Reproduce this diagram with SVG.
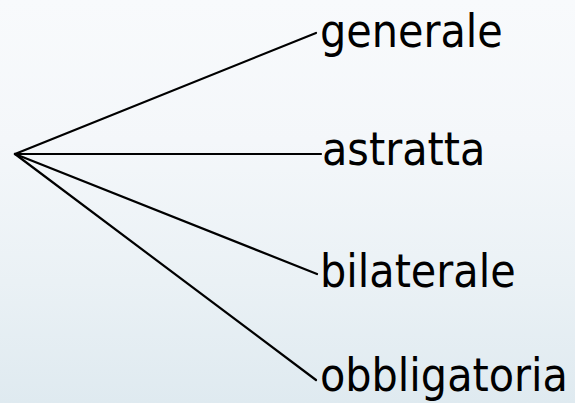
<svg xmlns="http://www.w3.org/2000/svg" width="575" height="403" viewBox="0 0 575 403">
  <defs>
    <linearGradient id="bg" x1="0" y1="0" x2="0" y2="1">
      <stop offset="0" stop-color="#f8fafc"/>
      <stop offset="0.35" stop-color="#f4f7fa"/>
      <stop offset="0.7" stop-color="#eaf1f5"/>
      <stop offset="1" stop-color="#dfeaf0"/>
    </linearGradient>
    <style>
      .lbl { font-family: "DejaVu Sans Condensed", "DejaVu Sans", sans-serif; font-stretch: condensed; font-size: 46px; fill: #000; }
      .conn line { stroke: #000; stroke-width: 2.2; stroke-linecap: round; }
    </style>
  </defs>
  <rect width="575" height="403" fill="url(#bg)"/>
  <g id="connectors" class="conn">
    <line x1="15" y1="154" x2="316" y2="33"/>
    <line x1="15" y1="154" x2="321" y2="154"/>
    <line x1="15" y1="154" x2="317" y2="274"/>
    <line x1="15" y1="154" x2="316" y2="380"/>
  </g>
  <g id="node-generale"><text class="lbl" x="320" y="47">generale</text></g>
  <g id="node-astratta"><text class="lbl" x="322" y="165">astratta</text></g>
  <g id="node-bilaterale"><text class="lbl" x="320" y="287">bilaterale</text></g>
  <g id="node-obbligatoria"><text class="lbl" x="320" y="391">obbligatoria</text></g>
</svg>
